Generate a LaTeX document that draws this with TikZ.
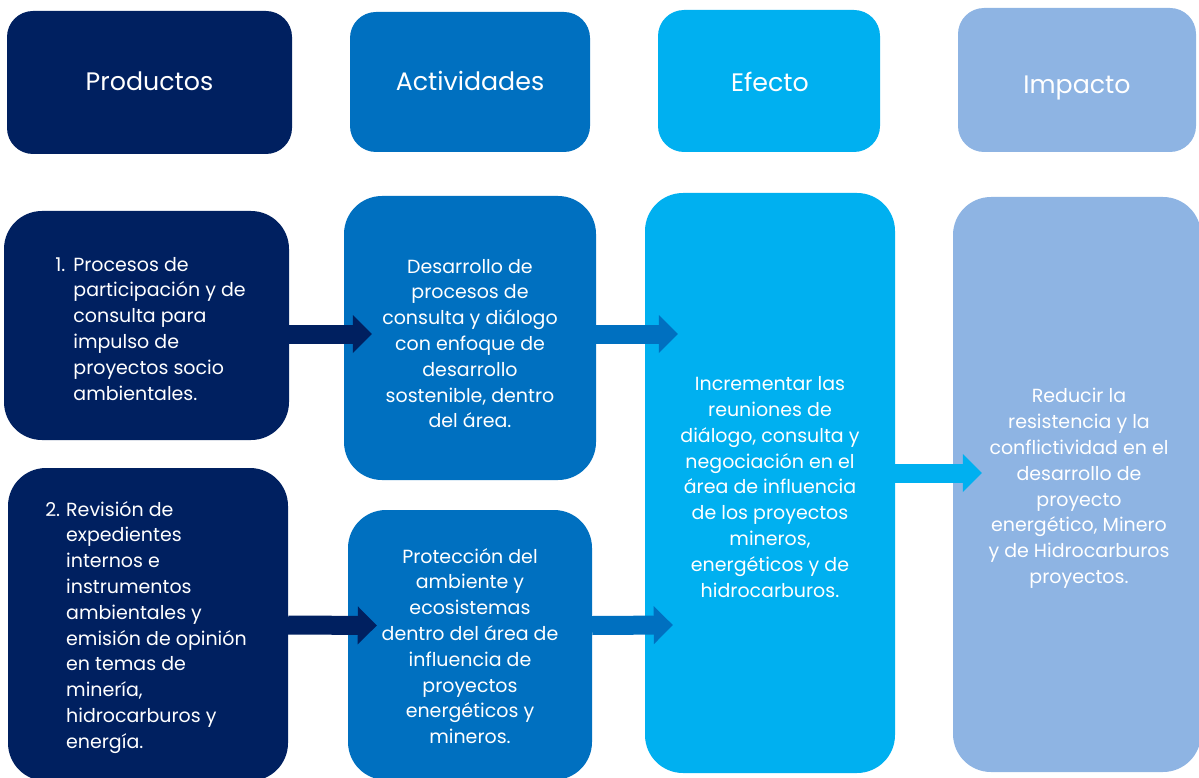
\documentclass[tikz,border=0pt]{standalone}
\usepackage{fontspec}
\setmainfont{Poppins}
\usetikzlibrary{arrows.meta,calc}
\definecolor{navy}{HTML}{002060}
\definecolor{blu}{HTML}{0070C0}
\definecolor{cyn}{HTML}{00B0F0}
\definecolor{lblu}{HTML}{8EB4E3}
\begin{document}
\begin{tikzpicture}[x=1pt,y=-1pt,
  hbox/.style={rectangle, rounded corners=26pt, inner sep=0pt},
  bbox/.style={rectangle, rounded corners=38pt, inner sep=0pt},
  htext/.style={text=white, inner sep=0pt, text height=18pt, text depth=6pt,
    font=\fontsize{25.3}{30}\selectfont},
  btext/.style={text=white, inner sep=0pt, align=center,
    font=\fontsize{19}{25.8}\selectfont},
  conn/.style={line width=19pt, -{Triangle[length=19pt,width=38pt,line width'=0pt]}}]
\useasboundingbox (0,0) rectangle (1199,778);
% headers
\node[hbox, fill=navy, minimum width=285pt, minimum height=143pt] (hp) at (149.5,82.5) {};
\node[hbox, fill=blu,  minimum width=240pt, minimum height=140pt] (ha) at (470,82) {};
\node[hbox, fill=cyn,  minimum width=222pt, minimum height=142pt] (he) at (769,81) {};
\node[hbox, fill=lblu, minimum width=238pt, minimum height=144pt] (hi) at (1077,80) {};
\node[htext] (hpt) at ($(hp)+(0,2)$) {Productos};
\node[htext] (hat) at ($(ha)+(0,3)$) {Actividades};
\node[htext] (het) at ($(he)+(1,5)$) {Efecto};
\node[htext] (hit) at ($(hi)+(0,7.5)$) {Impacto};
% body boxes
\node[bbox, fill=navy, minimum width=285pt, minimum height=229pt] (p1) at (146.5,325.5) {};
\node[bbox, fill=navy, minimum width=280pt, minimum height=313pt] (p2) at (148,624.5) {};
\node[bbox, fill=blu, minimum width=252pt, minimum height=284pt] (a1) at (470,338) {};
\node[bbox, fill=blu, minimum width=244pt, minimum height=270pt] (a2) at (470,645) {};
\node[bbox, fill=cyn, minimum width=250pt, minimum height=580pt] (e) at (770,483) {};
\node[bbox, fill=lblu, minimum width=248pt, minimum height=575pt] (i) at (1077,484.5) {};
% body texts
\node[btext] (p1t) at ($(p1)+(4,5)$)
  {\begin{tabular}{@{}l@{\hspace{8pt}}l@{}}
   1. & Procesos de\\
      & participación y de\\
      & consulta para\\
      & impulso de\\
      & proyectos socio\\
      & ambientales.
   \end{tabular}};
\node[btext] (p2t) at ($(p2)+(-2,2.5)$)
  {\begin{tabular}{@{}l@{\hspace{6pt}}l@{}}
   2. & Revisión de\\
      & expedientes\\
      & internos e\\
      & instrumentos\\
      & ambientales y\\
      & emisión de opinión\\
      & en temas de\\
      & minería,\\
      & hidrocarburos y\\
      & energía.
   \end{tabular}};
\node[btext] (a1t) at ($(a1)+(0,5.5)$)
  {Desarrollo de\\procesos de\\consulta y diálogo\\con enfoque de\\desarrollo\\sostenible, dentro\\del área.};
\node[btext] (a2t) at ($(a2)+(0,1)$)
  {Protección del\\ambiente y\\ecosistemas\\dentro del área de\\influencia de\\proyectos\\energéticos y\\mineros.};
\node[btext] (et) at ($(e)+(0,4)$)
  {Incrementar las\\reuniones de\\diálogo, consulta y\\negociación en el\\área de influencia\\de los proyectos\\mineros,\\energéticos y de\\hidrocarburos.};
\node[btext] (it) at ($(i)+(2,4)$)
  {Reducir la\\resistencia y la\\conflictividad en el\\desarrollo de\\proyecto\\energético, Minero\\y de Hidrocarburos\\proyectos.};
% connectors
\draw[conn, navy] ($(p1.east)+(0,8.5)$) -- ($(a1.west)+(28,-4)$);
\draw[conn, blu]  ($(a1.east)+(0,-4)$) -- ($(e.west)+(33,-149)$);
\draw[conn, cyn]  ($(e.east)+(0,-10)$) -- ($(i.west)+(29,-11.5)$);
\draw[conn, navy] ($(p2.east)+(0,0.5)$) -- ($(a2.west)+(29,-19.5)$);
\draw[conn, blu]  ($(a2.east)+(0,-19.5)$) -- ($(e.west)+(28,142)$);
\end{tikzpicture}
\end{document}
